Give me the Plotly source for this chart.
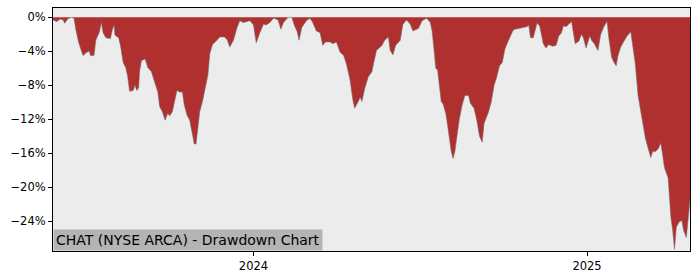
import plotly.graph_objects as go

dates = [
    "2023-05-26", "2023-05-30", "2023-06-03", "2023-06-06", "2023-06-08", "2023-06-11",
    "2023-06-15", "2023-06-18", "2023-06-20", "2023-06-23", "2023-06-26", "2023-06-28",
    "2023-07-02", "2023-07-05", "2023-07-06", "2023-07-10", "2023-07-12", "2023-07-16",
    "2023-07-18", "2023-07-20", "2023-07-23", "2023-07-26", "2023-07-28", "2023-07-30",
    "2023-08-01", "2023-08-02", "2023-08-06", "2023-08-08", "2023-08-11", "2023-08-14",
    "2023-08-16", "2023-08-18", "2023-08-22", "2023-08-24", "2023-08-26", "2023-08-28",
    "2023-08-29", "2023-08-31", "2023-09-04", "2023-09-05", "2023-09-07", "2023-09-11",
    "2023-09-14", "2023-09-18", "2023-09-20", "2023-09-23", "2023-09-26", "2023-09-29",
    "2023-10-01", "2023-10-04", "2023-10-06", "2023-10-09", "2023-10-12", "2023-10-15",
    "2023-10-17", "2023-10-20", "2023-10-23", "2023-10-26", "2023-10-28", "2023-10-30",
    "2023-11-01", "2023-11-03", "2023-11-06", "2023-11-09", "2023-11-12", "2023-11-14",
    "2023-11-17", "2023-11-21", "2023-11-25", "2023-11-30", "2023-12-03", "2023-12-06",
    "2023-12-10", "2023-12-14", "2023-12-17", "2023-12-21", "2023-12-25", "2023-12-28",
    "2024-01-01", "2024-01-04", "2024-01-08", "2024-01-12", "2024-01-15", "2024-01-19",
    "2024-01-23", "2024-01-28", "2024-01-31", "2024-02-03", "2024-02-08", "2024-02-12",
    "2024-02-15", "2024-02-18", "2024-02-20", "2024-02-23", "2024-02-28", "2024-03-03",
    "2024-03-06", "2024-03-10", "2024-03-14", "2024-03-17", "2024-03-20", "2024-03-25",
    "2024-03-28", "2024-04-01", "2024-04-05", "2024-04-09", "2024-04-12", "2024-04-16",
    "2024-04-19", "2024-04-21", "2024-04-25", "2024-04-27", "2024-04-29", "2024-05-02",
    "2024-05-06", "2024-05-10", "2024-05-12", "2024-05-15", "2024-05-21", "2024-05-24",
    "2024-05-28", "2024-05-30", "2024-06-02", "2024-06-05", "2024-06-10", "2024-06-13",
    "2024-06-17", "2024-06-21", "2024-06-24", "2024-06-30", "2024-07-04", "2024-07-09",
    "2024-07-13", "2024-07-15", "2024-07-17", "2024-07-19", "2024-07-21", "2024-07-23",
    "2024-07-25", "2024-07-27", "2024-07-30", "2024-08-01", "2024-08-03", "2024-08-05",
    "2024-08-07", "2024-08-09", "2024-08-11", "2024-08-14", "2024-08-17", "2024-08-20",
    "2024-08-24", "2024-08-26", "2024-08-30", "2024-09-02", "2024-09-05", "2024-09-08",
    "2024-09-10", "2024-09-12", "2024-09-15", "2024-09-18", "2024-09-21", "2024-09-24",
    "2024-09-27", "2024-09-30", "2024-10-03", "2024-10-06", "2024-10-09", "2024-10-12",
    "2024-10-14", "2024-10-18", "2024-10-22", "2024-10-24", "2024-10-27", "2024-10-29",
    "2024-10-31", "2024-11-03", "2024-11-07", "2024-11-10", "2024-11-12", "2024-11-14",
    "2024-11-17", "2024-11-20", "2024-11-24", "2024-11-28", "2024-12-01", "2024-12-04",
    "2024-12-06", "2024-12-09", "2024-12-12", "2024-12-15", "2024-12-19", "2024-12-23",
    "2024-12-26", "2024-12-28", "2024-12-31", "2025-01-04", "2025-01-06", "2025-01-09",
    "2025-01-13", "2025-01-16", "2025-01-20", "2025-01-23", "2025-01-25", "2025-01-28",
    "2025-01-30", "2025-02-02", "2025-02-04", "2025-02-07", "2025-02-10", "2025-02-14",
    "2025-02-18", "2025-02-20", "2025-02-23", "2025-02-26", "2025-03-01", "2025-03-03",
    "2025-03-06", "2025-03-09", "2025-03-12", "2025-03-14", "2025-03-17", "2025-03-20",
    "2025-03-23", "2025-03-25", "2025-03-27", "2025-03-31", "2025-04-01", "2025-04-03",
    "2025-04-05", "2025-04-07", "2025-04-09", "2025-04-12", "2025-04-15", "2025-04-17",
    "2025-04-20", "2025-04-22", "2025-04-23", "2025-04-24",
]

drawdown_pct = [
    -0.3, -0.5, -0.2, -0.3, -0.7, -0.2,
    0.0, -0.1, -1.4, -2.9, -3.9, -4.5,
    -4.1, -4.0, -4.5, -4.5, -2.7, -1.7,
    -0.6, -1.8, -2.4, -2.5, -2.5, -1.5,
    -0.9, -2.1, -2.4, -3.3, -5.3, -6.0,
    -7.0, -8.7, -8.6, -8.0, -8.6, -8.3,
    -6.4, -5.1, -4.9, -5.2, -5.9, -6.4,
    -7.4, -8.8, -10.5, -11.1, -12.1, -11.3,
    -11.6, -11.1, -10.1, -8.6, -8.8, -8.8,
    -10.3, -11.5, -12.1, -13.8, -14.9, -14.9,
    -13.0, -11.1, -9.9, -8.4, -6.8, -4.3,
    -3.2, -2.8, -2.3, -2.3, -2.6, -3.5,
    -2.7, -1.2, -0.4, -0.6, -0.5, -0.4,
    -0.9, -3.0, -1.8, -0.8, -0.9, -0.6,
    -0.1, -0.3, -1.4, -0.6, 0.0, 0.0,
    -1.0, -1.7, -2.7, -1.2, -0.4, -0.1,
    -0.6, -1.6, -1.8, -3.3, -2.9, -2.9,
    -3.1, -2.9, -4.1, -4.5, -5.5, -7.4,
    -9.7, -10.7, -9.9, -9.4, -9.9, -8.4,
    -7.0, -6.4, -5.3, -3.9, -3.3, -2.7,
    -2.3, -3.9, -4.4, -3.3, -2.7, -0.8,
    -0.3, -0.8, -1.6, -1.3, -0.4, -0.1,
    -0.6, -1.6, -3.7, -6.0, -6.2, -8.0,
    -9.9, -10.2, -11.3, -12.7, -14.2, -15.8,
    -16.6, -15.8, -14.2, -11.9, -10.3, -9.2,
    -9.2, -10.1, -10.7, -12.1, -14.0, -14.7,
    -12.5, -11.9, -11.1, -9.9, -8.0, -7.0,
    -5.7, -5.3, -3.7, -2.9, -2.2, -1.5,
    -1.4, -1.3, -1.2, -1.2, -1.1, -0.9,
    -2.4, -2.4, -0.7, -1.0, -2.0, -3.1,
    -3.6, -3.2, -3.4, -3.3, -2.2, -1.8,
    -1.0, -1.1, -0.8, -0.5, -3.1, -2.8,
    -2.0, -2.4, -3.6, -2.2, -2.7, -3.1,
    -3.9, -2.0, -1.0, -0.5, -2.5, -4.7,
    -5.2, -5.7, -4.5, -3.5, -2.9, -2.2,
    -1.7, -3.3, -5.5, -9.2, -11.1, -12.7,
    -14.2, -15.4, -16.5, -15.8, -15.8, -15.5,
    -14.8, -16.2, -17.7, -18.9, -20.4, -23.5,
    -25.1, -27.3, -24.7, -24.1, -23.9, -25.1,
    -25.9, -23.5, -22.0, -21.5,
]

y_tick_vals = [0, -4, -8, -12, -16, -20, -24]
y_tick_text = ["0%", "−4%", "−8%", "−12%", "−16%", "−20%", "−24%"]
x_tick_vals = ["2024-01-01", "2025-01-01"]
x_tick_text = ["2024", "2025"]
x_range = ["2023-05-26", "2025-04-24"]
y_range = [-27.5, 1.1]
title_text = "CHAT (NYSE ARCA) - Drawdown Chart"

fig = go.Figure()
fig.add_trace(go.Scatter(
    x=dates, y=drawdown_pct, mode="lines", fill="tozeroy",
    fillcolor="#b03030", line=dict(color="rgba(110,110,110,0.8)", width=0.7),
    hoverinfo="skip",
))

fig.update_layout(
    width=700, height=280,
    margin=dict(l=53, r=10, t=7, b=28),
    paper_bgcolor="white", plot_bgcolor="#ececec",
    showlegend=False,
    font=dict(family="DejaVu Sans", color="black"),
    annotations=[dict(
        text=title_text, xref="paper", yref="paper", x=0, y=0,
        xanchor="left", yanchor="bottom", showarrow=False,
        font=dict(family="DejaVu Sans", size=14, color="black"),
        bgcolor="#b4b4b4", borderpad=2, align="left",
    )],
)
fig.update_xaxes(
    type="date", range=x_range, tickvals=x_tick_vals, ticktext=x_tick_text,
    showgrid=False, zeroline=False, showline=True, linecolor="black", linewidth=1,
    mirror=True, ticks="outside", ticklen=4, tickcolor="black",
    tickfont=dict(size=11.5, family="DejaVu Sans"),
)
fig.update_yaxes(
    range=y_range, tickvals=y_tick_vals, ticktext=y_tick_text,
    showgrid=False, zeroline=False, showline=True, linecolor="black", linewidth=1,
    mirror=True, ticks="outside", ticklen=4, tickcolor="black",
    tickfont=dict(size=11.5, family="DejaVu Sans"),
)

fig.write_html("out.html")
